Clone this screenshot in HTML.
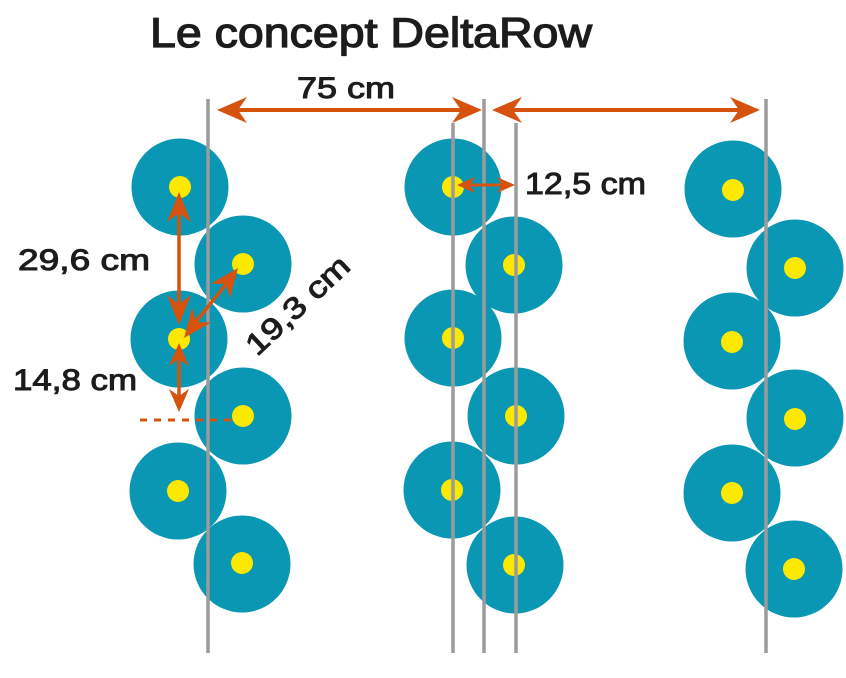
<!DOCTYPE html>
<html>
<head>
<meta charset="utf-8">
<style>
  html,body{margin:0;padding:0;background:#fff;}
  svg{display:block;}
  text{font-family:"Liberation Sans", Arial, sans-serif;fill:#1c1c1c;stroke:#1c1c1c;stroke-width:1.0;}
  text.title{stroke-width:1.3;}
</style>
</head>
<body>
<svg width="846" height="678" viewBox="0 0 846 678" xmlns="http://www.w3.org/2000/svg">
  <rect width="846" height="678" fill="#fff"/>

  <!-- Title -->
  <text class="title" x="150" y="47" font-size="42" textLength="442" lengthAdjust="spacingAndGlyphs">Le concept DeltaRow</text>

  <!-- Teal circles -->
  <g fill="#0a97b3">
    <circle cx="180" cy="187" r="48.5"/>
    <circle cx="243" cy="264" r="48.5"/>
    <circle cx="179" cy="339" r="48.5"/>
    <circle cx="243" cy="416" r="48.5"/>
    <circle cx="178" cy="491" r="48.5"/>
    <circle cx="242" cy="564" r="48.5"/>

    <circle cx="453" cy="187" r="48.5"/>
    <circle cx="514" cy="265" r="48.5"/>
    <circle cx="453" cy="338" r="48.5"/>
    <circle cx="516" cy="416" r="48.5"/>
    <circle cx="452" cy="490" r="48.5"/>
    <circle cx="515" cy="565" r="48.5"/>

    <circle cx="733" cy="189" r="48.5"/>
    <circle cx="795" cy="268" r="48.5"/>
    <circle cx="732" cy="341" r="48.5"/>
    <circle cx="795" cy="418" r="48.5"/>
    <circle cx="732" cy="493" r="48.5"/>
    <circle cx="794" cy="569" r="48.5"/>
  </g>
  <!-- Yellow dots -->
  <g fill="#fde900">
    <circle cx="180" cy="187" r="11"/>
    <circle cx="243" cy="264" r="11"/>
    <circle cx="179" cy="339" r="11"/>
    <circle cx="243" cy="416" r="11"/>
    <circle cx="178" cy="491" r="11"/>
    <circle cx="242" cy="563" r="11"/>

    <circle cx="453" cy="187" r="11"/>
    <circle cx="514" cy="265" r="11"/>
    <circle cx="453" cy="338" r="11"/>
    <circle cx="516" cy="416" r="11"/>
    <circle cx="452" cy="490" r="11"/>
    <circle cx="514" cy="565" r="11"/>

    <circle cx="733" cy="190" r="11"/>
    <circle cx="795" cy="268" r="11"/>
    <circle cx="732" cy="342" r="11"/>
    <circle cx="795" cy="419" r="11"/>
    <circle cx="732" cy="493" r="11"/>
    <circle cx="794" cy="569" r="11"/>
  </g>

  <!-- Gray row lines -->
  <g stroke="#9b9b9b" stroke-width="3.5">
    <line x1="208" y1="99" x2="208" y2="653"/>
    <line x1="453" y1="123" x2="453" y2="653"/>
    <line x1="484" y1="99" x2="484" y2="653"/>
    <line x1="516" y1="123" x2="516" y2="653"/>
    <line x1="766" y1="99" x2="766" y2="653"/>
  </g>

  <!-- Orange dimension arrows -->
  <g stroke="#d6520f" fill="none">
    <line x1="235" y1="110" x2="464" y2="110" stroke-width="4"/>
    <line x1="510" y1="110" x2="742" y2="110" stroke-width="4"/>
    <line x1="179" y1="210" x2="179" y2="307" stroke-width="3.5"/>
    <line x1="179" y1="357" x2="179" y2="398" stroke-width="3.5"/>
    <line x1="195" y1="323" x2="227" y2="283" stroke-width="3.5"/>
    <line x1="469" y1="185" x2="503" y2="185" stroke-width="3"/>
    <line x1="140" y1="420" x2="232" y2="420" stroke-width="3" stroke-dasharray="7,7"/>
  </g>
  <g fill="#d6520f">
    <!-- 75 cm arrows -->
    <polygon points="0,0 -30,-13 -21,0 -30,13" transform="translate(217,110) rotate(180)"/>
    <polygon points="0,0 -30,-13 -21,0 -30,13" transform="translate(482,110)"/>
    <polygon points="0,0 -30,-13 -21,0 -30,13" transform="translate(492,110) rotate(180)"/>
    <polygon points="0,0 -30,-13 -21,0 -30,13" transform="translate(760,110)"/>
    <!-- 29,6 cm -->
    <polygon points="0,0 -30,-12 -21,0 -30,12" transform="translate(179,192) rotate(-90)"/>
    <polygon points="0,0 -30,-12 -21,0 -30,12" transform="translate(179,325) rotate(90)"/>
    <!-- 14,8 cm -->
    <polygon points="0,0 -23,-10 -16,0 -23,10" transform="translate(179,343) rotate(-90)"/>
    <polygon points="0,0 -23,-10 -16,0 -23,10" transform="translate(179,412) rotate(90)"/>
    <!-- 19,3 cm -->
    <polygon points="0,0 -29,-12 -20,0 -29,12" transform="translate(238,268) rotate(-52.4)"/>
    <polygon points="0,0 -29,-12 -20,0 -29,12" transform="translate(184,338) rotate(127.6)"/>
    <!-- 12,5 cm -->
    <polygon points="0,0 -18,-8 -13,0 -18,8" transform="translate(457,185) rotate(180)"/>
    <polygon points="0,0 -18,-8 -13,0 -18,8" transform="translate(515,185)"/>
  </g>

  <!-- Labels -->
  <text x="297" y="98" font-size="30" textLength="98" lengthAdjust="spacingAndGlyphs">75 cm</text>
  <text x="525" y="194" font-size="31" textLength="121" lengthAdjust="spacingAndGlyphs">12,5 cm</text>
  <text x="18" y="270" font-size="30" textLength="132" lengthAdjust="spacingAndGlyphs">29,6 cm</text>
  <text x="13" y="390" font-size="30" textLength="124" lengthAdjust="spacingAndGlyphs">14,8 cm</text>
  <text x="257" y="357" font-size="30" textLength="130" lengthAdjust="spacingAndGlyphs" transform="rotate(-43 257 357)">19,3 cm</text>
</svg>
</body>
</html>
